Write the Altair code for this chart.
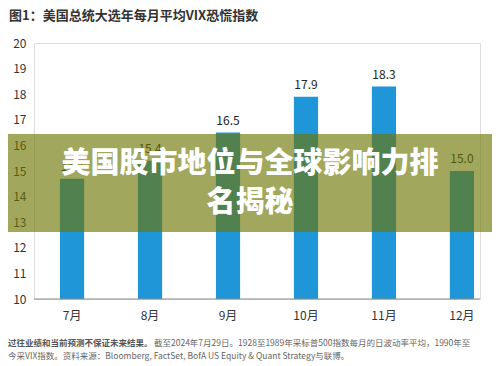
import altair as alt
import pandas as pd

months = ["7月", "8月", "9月", "10月", "11月", "12月"]
vix = [14.7, 15.4, 16.5, 17.9, 18.3, 15.0]
y_ticks = [10, 11, 12, 13, 14, 15, 16, 17, 18, 19, 20]

title_text = "图1：美国总统大选年每月平均VIX恐慌指数"
banner_lines = ["美国股市地位与全球影响力排", "名揭秘"]
foot_bold = "过往业绩和当前预测不保证未来结果。"
foot_rest = "截至2024年7月29日。1928至1989年采标普500指数每月的日波动率平均，1990年至"
foot_line2 = "今采VIX指数。资料来源：Bloomberg, FactSet, BofA US Equity & Quant Strategy与联博。"

df = pd.DataFrame({"month": months, "vix": vix, "labels": [f"{v:.1f}" for v in vix]})

FONT = "Noto Sans CJK SC"
W, H = 446, 256

x = alt.X("month:N", sort=months,
          scale=alt.Scale(range=[0, 466], paddingInner=0.69, paddingOuter=0.333),
          axis=alt.Axis(title=None, domain=False, ticks=False, labelAngle=0,
                        labelFontSize=12, labelColor="#333333", labelFont=FONT,
                        labelPadding=11))
y = alt.Y("vix:Q", scale=alt.Scale(domain=[10, 20], zero=False, nice=False),
          axis=alt.Axis(title=None, domain=False, ticks=False, grid=False,
                        values=y_ticks, tickCount=11, labelOverlap=False, labelFontSize=12,
                        labelColor="#333333", labelFont=FONT, labelPadding=8))

base = alt.Chart(df)

bars = base.mark_bar(color="#1F96D8").encode(x=x, y=y, y2=alt.datum(10))
vals = base.mark_text(baseline="bottom", dy=-5, fontSize=12, color="#222222", font=FONT).encode(
    x=x, y=y, text="labels:N")

axis_line = alt.Chart(pd.DataFrame({"v": [10]})).mark_rule(color="#8a8a8a", strokeWidth=1).encode(
    x=alt.value(0), x2=alt.value(W), y=alt.value(H))

banner = alt.Chart(pd.DataFrame({"v": [0]})).mark_rect(color="#6C7500", opacity=0.64).encode(
    x=alt.value(-26), x2=alt.value(458), y=alt.value(91), y2=alt.value(189))

b1 = alt.Chart(pd.DataFrame({"t": [banner_lines[0]]})).mark_text(
    fontSize=29, fontWeight=900, color="white", font=FONT, align="center", baseline="middle").encode(
    text="t:N", x=alt.value(216), y=alt.value(121))
b2 = alt.Chart(pd.DataFrame({"t": [banner_lines[1]]})).mark_text(
    fontSize=29, fontWeight=900, color="white", font=FONT, align="center", baseline="middle").encode(
    text="t:N", x=alt.value(216), y=alt.value(160))

title = alt.Chart(pd.DataFrame({"t": [title_text]})).mark_text(
    fontSize=13, fontWeight="bold", color="#333333", font=FONT, align="left", baseline="middle").encode(
    text="t:N", x=alt.value(-25), y=alt.value(-27))

f1 = alt.Chart(pd.DataFrame({"t": [foot_bold]})).mark_text(
    fontSize=8.5, fontWeight="bold", color="#555555", font=FONT, align="left", baseline="middle").encode(
    text="t:N", x=alt.value(-26), y=alt.value(300))
f2 = alt.Chart(pd.DataFrame({"t": [foot_rest]})).mark_text(
    fontSize=8.5, color="#666666", font=FONT, align="left", baseline="middle").encode(
    text="t:N", x=alt.value(120), y=alt.value(300))
f3 = alt.Chart(pd.DataFrame({"t": [foot_line2]})).mark_text(
    fontSize=8.5, color="#666666", font=FONT, align="left", baseline="middle").encode(
    text="t:N", x=alt.value(-26), y=alt.value(313))

chart = alt.layer(bars, vals, axis_line, title, f1, f2, f3, banner, b1, b2).properties(
    width=W, height=H,
    autosize=alt.AutoSizeParams(type="none"),
    padding={"left": 26, "top": 35, "right": 12, "bottom": 67},
).configure_view(stroke=None).configure(background="white")

chart.save("out.html", embed_options={"renderer": "svg", "actions": False})
